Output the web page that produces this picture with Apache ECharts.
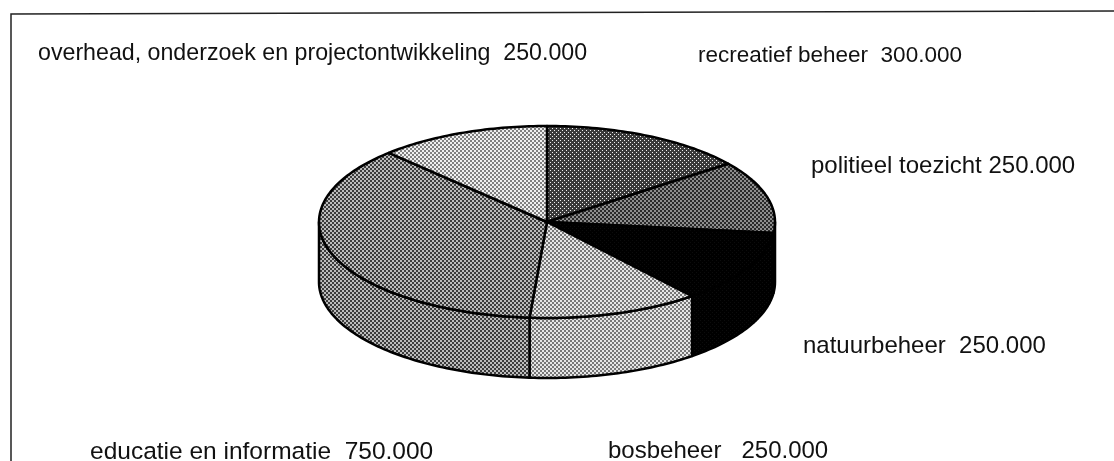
<!DOCTYPE html>
<html>
<head>
<meta charset="utf-8">
<style>
  html, body { margin: 0; padding: 0; background: #fff; }
  #main { width: 1114px; height: 461px; }
</style>
<script src="https://cdn.jsdelivr.net/npm/echarts@6/dist/echarts.min.js"></script>
</head>
<body>
<div id="main"></div>
<script>
const categories = ['recreatief beheer', 'politieel toezicht', 'natuurbeheer', 'bosbeheer', 'educatie en informatie', 'overhead, onderzoek en projectontwikkeling'];
const amounts = [300000, 250000, 250000, 250000, 750000, 250000];
const amountLabels = ['300.000', '250.000', '250.000', '250.000', '750.000', '250.000'];
const labelGaps = ['  ', ' ', '  ', '   ', '  ', '  '];

// pie geometry
const cx = 547, cy = 222, rx = 228, ry = 96, depth = 60;

// halftone tile, checker of a dark and a light grey
function tile(size, cell, dark, light) {
  const c = document.createElement('canvas');
  c.width = c.height = size;
  const g = c.getContext('2d');
  g.fillStyle = dark;
  g.fillRect(0, 0, size, size);
  g.fillStyle = light;
  g.fillRect(0, 0, cell, cell);
  g.fillRect(size / 2, size / 2, cell, cell);
  return { image: c, repeat: 'repeat' };
}
const fills = [
  tile(4, 1, '#3a3a3a', '#f0f0f0'),
  tile(4, 2, '#2a2a2a', '#8e8e8e'),
  tile(4, 1, '#000000', '#0c0c0c'),
  tile(4, 2, '#777777', '#e6e6e6'),
  tile(4, 2, '#3c3c3c', '#bcbcbc'),
  tile(4, 2, '#808080', '#f0f0f0')
];

const total = amounts.reduce(function (a, b) { return a + b; }, 0);
const starts = [];
amounts.reduce(function (sum, v, i) { starts[i] = sum; return sum + v; }, 0);

function rimPoint(angle, dy) {
  return [cx + rx * Math.sin(angle), cy - ry * Math.cos(angle) + dy];
}
function arcPoints(a0, a1, dy) {
  const pts = [];
  const n = Math.max(2, Math.ceil(Math.abs(a1 - a0) / 0.02));
  for (let k = 0; k <= n; k++) pts.push(rimPoint(a0 + (a1 - a0) * k / n, dy));
  return pts;
}

function renderSlice(params, api) {
  const i = params.dataIndex;
  const a0 = starts[i] / total * Math.PI * 2;
  const a1 = (starts[i] + api.value(0)) / total * Math.PI * 2;
  const line = { stroke: '#000', lineWidth: 2.5, lineJoin: 'round' };
  const children = [];
  // front wall, only the part between 3 and 9 o'clock is visible
  const s0 = Math.max(a0, Math.PI / 2), s1 = Math.min(a1, Math.PI * 1.5);
  if (s1 > s0) {
    const pts = arcPoints(s0, s1, 0).concat(arcPoints(s1, s0, depth));
    children.push({ type: 'polygon', shape: { points: pts }, style: Object.assign({ fill: fills[i] }, line) });
  }
  children.push({
    type: 'polygon',
    shape: { points: [[cx, cy]].concat(arcPoints(a0, a1, 0)) },
    style: Object.assign({ fill: fills[i] }, line)
  });
  return { type: 'group', children: children };
}

// the scan is not evenly stretched, so each label has its own size
const labelPlaces = [
  { x: 698, y: 56, size: 22.5 }, { x: 811, y: 166, size: 24 }, { x: 803, y: 346, size: 24 },
  { x: 608, y: 451, size: 24 }, { x: 90, y: 452, size: 24.5 }, { x: 38, y: 54, size: 23.2 }
];

const chart = echarts.init(document.getElementById('main'), null, { renderer: 'canvas' });
chart.setOption({
  animation: false,
  backgroundColor: '#fff',
  graphic: [
    { type: 'polyline', shape: { points: [[11, 461], [11, 14], [1114, 11]] }, style: { stroke: '#222', lineWidth: 1.5, fill: null } }
  ].concat(categories.map(function (name, i) {
    return {
      type: 'text',
      x: labelPlaces[i].x,
      y: labelPlaces[i].y,
      style: {
        text: name + labelGaps[i] + amountLabels[i],
        fontFamily: '"Liberation Sans", Arial, sans-serif',
        fontSize: labelPlaces[i].size,
        fill: '#111',
        textVerticalAlign: 'middle'
      }
    };
  })),
  series: [{
    type: 'custom',
    coordinateSystem: 'none',
    renderItem: renderSlice,
    data: amounts.map(function (v) { return [v]; })
  }]
});
</script>
</body>
</html>
